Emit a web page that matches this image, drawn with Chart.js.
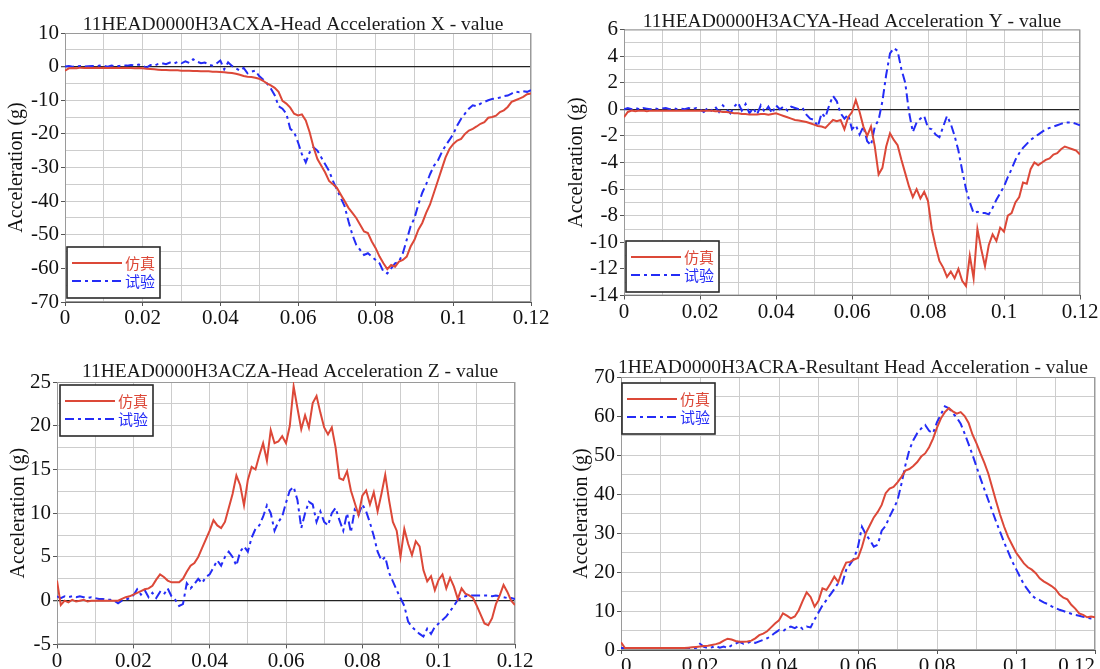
<!DOCTYPE html>
<html>
<head>
<meta charset="utf-8">
<script src="https://cdn.jsdelivr.net/npm/chart.js@4.4.1/dist/chart.umd.min.js"></script>
<style>
html,body{margin:0;padding:0;background:#fff;width:1100px;height:669px;overflow:hidden}
canvas{position:absolute;display:block}
</style>
</head>
<body>
<canvas id="c1" width="550" height="335" style="left:0;top:0"></canvas>
<canvas id="c2" width="550" height="335" style="left:550px;top:0"></canvas>
<canvas id="c3" width="550" height="334" style="left:0;top:335px"></canvas>
<canvas id="c4" width="550" height="334" style="left:550px;top:335px"></canvas>
<script>
// sampling interval of all series (s)
const TIME_STEP = 0.001;
const SERIES_NAMES = ['仿真', '试验'];
const X_TICK_LABELS = ['0', '0.02', '0.04', '0.06', '0.08', '0.1', '0.12'];
const Y_LABEL = 'Acceleration (g)';
const TITLES = [
  '11HEAD0000H3ACXA-Head Acceleration X - value',
  '11HEAD0000H3ACYA-Head Acceleration Y - value',
  '11HEAD0000H3ACZA-Head Acceleration Z - value',
  '1HEAD0000H3ACRA-Resultant Head Acceleration - value'
];

// Head acceleration X (g), t = 0 .. 0.12 s
const simX = [-1.2,-0.5,-0.4,-0.5,-0.3,-0.4,-0.3,-0.4,-0.3,-0.4,
  -0.3,-0.4,-0.3,-0.4,-0.4,-0.3,-0.4,-0.4,-0.5,-0.4,
  -0.5,-0.6,-0.7,-0.8,-0.9,-1.0,-1.0,-1.1,-1.1,-1.1,
  -1.2,-1.2,-1.2,-1.3,-1.3,-1.4,-1.4,-1.4,-1.5,-1.5,
  -1.6,-1.7,-1.8,-1.9,-2.1,-2.4,-2.8,-3.0,-3.1,-3.3,
  -3.6,-4.2,-5.0,-5.6,-6.3,-7.5,-10.2,-11.0,-12.2,-14.0,
  -14.5,-14.2,-16.0,-19.5,-24.0,-27.5,-29.5,-31.5,-34.0,-35.0,
  -36.0,-38.0,-40.0,-42.0,-43.5,-45.0,-47.0,-49.0,-49.5,-52.0,
  -54.0,-56.5,-58.5,-60.2,-59.0,-59.5,-58.0,-57.5,-56.5,-53.5,
  -51.5,-48.5,-46.5,-43.5,-41.0,-37.5,-34.0,-30.5,-27.0,-24.5,
  -23.0,-22.0,-21.5,-20.0,-19.0,-18.5,-17.8,-17.0,-16.5,-15.2,
  -15.0,-14.6,-13.5,-13.0,-12.0,-10.5,-10.0,-9.5,-9.0,-8.2,-8.0];
const testX = [0.0,0.2,0.0,0.1,0.2,0.0,0.1,0.2,0.1,0.3,
  0.2,0.0,0.3,0.1,0.2,0.4,0.3,0.5,0.3,0.6,
  0.2,-0.3,0.5,0.3,0.8,1.0,0.7,1.2,0.9,1.4,
  1.0,1.6,1.1,2.2,1.5,1.0,1.2,0.6,0.3,0.9,
  1.8,-0.8,1.3,0.2,-0.5,-1.2,-0.4,-2.0,-1.5,-1.2,
  -2.8,-3.8,-5.0,-6.5,-8.5,-11.8,-12.5,-14.0,-18.5,-19.5,
  -22.5,-26.0,-28.5,-25.5,-24.0,-25.0,-27.0,-29.0,-31.0,-34.0,
  -36.5,-39.0,-41.5,-46.0,-50.0,-53.0,-54.5,-56.0,-55.5,-56.5,
  -57.5,-58.5,-61.0,-61.5,-60.0,-58.5,-58.0,-55.5,-51.5,-47.5,
  -45.0,-41.0,-37.5,-35.0,-32.0,-29.5,-28.0,-25.5,-23.5,-21.8,
  -20.0,-17.5,-15.5,-14.0,-12.5,-11.5,-11.8,-11.0,-10.5,-10.0,
  -9.6,-9.5,-9.2,-8.8,-8.6,-8.0,-7.4,-7.6,-7.3,-7.5,-7.0];

// Head acceleration Y (g)
const simY = [-0.6,-0.2,-0.1,-0.15,-0.1,-0.1,-0.15,-0.1,-0.1,-0.1,
  -0.1,-0.1,-0.1,-0.1,-0.1,-0.1,-0.1,-0.1,-0.1,-0.1,
  -0.1,-0.1,-0.1,-0.1,-0.15,-0.15,-0.2,-0.2,-0.25,-0.3,
  -0.3,-0.35,-0.35,-0.4,-0.4,-0.4,-0.35,-0.35,-0.4,-0.35,
  -0.3,-0.4,-0.5,-0.6,-0.7,-0.8,-0.85,-0.9,-0.95,-1.05,
  -1.15,-1.25,-1.3,-1.4,-1.1,-0.8,-0.9,-0.8,-1.5,-0.6,
  -0.2,0.7,-0.2,-1.3,-2.0,-1.3,-2.8,-4.9,-4.4,-2.8,
  -1.8,-2.3,-2.7,-3.8,-4.8,-5.8,-6.6,-6.0,-6.7,-6.2,
  -6.9,-9.0,-10.3,-11.4,-11.9,-12.6,-12.2,-12.7,-12.0,-12.9,
  -13.3,-11.0,-12.7,-9.0,-10.5,-11.8,-10.2,-9.4,-9.9,-8.9,
  -9.2,-8.0,-7.8,-7.0,-6.6,-5.5,-5.6,-4.5,-4.0,-4.2,
  -4.0,-3.8,-3.7,-3.4,-3.3,-3.0,-2.8,-2.9,-3.0,-3.1,-3.4];
const testY = [0.0,0.1,0.0,0.1,0.0,0.1,0.05,0.0,0.1,0.0,
  0.05,0.1,0.0,0.1,0.0,0.05,0.0,0.1,0.0,0.1,
  0.0,-0.2,0.1,-0.1,0.2,-0.2,0.3,0.0,-0.3,0.2,
  0.5,-0.1,0.4,-0.3,0.1,-0.4,0.3,-0.2,0.2,-0.3,
  0.3,0.0,0.2,-0.1,0.2,0.1,0.0,0.1,-0.4,-0.7,
  -0.8,-1.3,-0.3,-0.6,0.3,1.0,0.6,-0.3,-0.7,-0.4,
  -1.5,-1.2,-1.9,-1.3,-2.4,-2.7,-1.3,-0.8,0.6,2.6,
  4.2,4.6,4.4,3.0,2.0,-0.2,-1.7,-1.0,-0.7,-0.5,
  -1.4,-1.5,-1.9,-2.1,-1.3,-0.5,-1.1,-2.0,-3.1,-4.6,
  -6.0,-7.0,-7.8,-7.7,-7.8,-7.8,-7.9,-7.4,-6.8,-6.3,
  -5.8,-5.1,-4.5,-3.8,-3.3,-2.9,-2.6,-2.3,-2.1,-1.9,
  -1.7,-1.5,-1.4,-1.3,-1.2,-1.1,-1.0,-1.0,-1.0,-1.1,-1.2];

// Head acceleration Z (g)
const simZ = [2.3,-0.5,0.0,-0.2,0.1,-0.1,0.0,0.1,-0.1,0.0,
  0.0,0.0,0.0,0.0,0.0,0.0,0.0,0.2,0.4,0.5,
  0.7,0.9,1.1,1.3,1.4,1.7,2.4,3.0,2.7,2.3,
  2.1,2.1,2.1,2.5,3.3,4.0,4.3,5.0,6.0,7.0,
  8.0,9.2,8.6,8.3,9.0,10.6,12.2,14.3,13.2,10.9,
  13.8,15.3,15.0,16.6,18.0,16.0,19.5,18.0,18.2,18.8,
  18.0,20.0,24.5,22.0,19.6,21.2,19.8,22.6,23.4,21.5,
  19.8,19.0,19.8,17.5,14.0,13.8,14.8,12.6,11.2,9.8,
  12.0,12.6,11.0,12.4,10.2,12.2,14.4,11.5,9.0,8.0,
  5.0,8.2,6.5,5.2,6.8,6.2,3.5,2.2,2.8,1.2,
  2.4,3.0,1.4,2.6,1.6,0.2,1.4,0.8,0.6,0.3,
  -0.6,-1.6,-2.6,-2.8,-2.0,-0.4,0.6,1.8,1.0,0.0,-0.5];
const testZ = [0.5,0.3,0.5,0.4,0.5,0.4,0.5,0.4,0.3,0.4,
  0.3,0.2,0.2,0.1,0.1,0.0,-0.3,0.0,0.1,0.3,
  0.6,1.3,0.7,1.2,0.4,0.9,0.3,1.0,0.7,1.4,
  0.5,0.1,-0.6,-0.4,2.0,1.4,1.9,2.5,2.0,2.7,
  3.0,3.8,4.6,4.0,5.0,5.6,5.0,4.0,5.6,6.2,
  5.6,7.2,8.2,8.6,9.6,10.9,10.0,8.0,9.0,9.6,
  11.2,12.6,13.0,11.5,8.3,10.0,11.3,11.0,9.0,10.2,
  9.0,8.6,10.0,10.6,9.2,8.0,10.0,7.8,10.4,9.8,
  11.0,10.2,8.9,7.4,5.6,4.6,5.0,3.2,2.2,1.2,
  0.3,-0.6,-2.4,-3.0,-3.4,-3.8,-4.1,-3.2,-3.8,-3.0,
  -2.6,-2.2,-1.8,-1.2,-0.6,0.1,0.3,0.5,0.6,0.6,
  0.6,0.6,0.6,0.6,0.5,0.6,0.5,0.4,0.3,0.3,0.2];

// Resultant head acceleration (g)
const simR = [2.0,0.5,0.5,0.5,0.5,0.5,0.5,0.5,0.5,0.5,
  0.5,0.5,0.5,0.5,0.5,0.5,0.5,0.6,0.7,0.8,
  0.9,1.0,1.1,1.3,1.5,1.8,2.4,2.9,2.7,2.3,
  2.1,2.1,2.2,2.4,3.0,3.8,4.2,4.8,5.8,6.8,
  7.6,9.4,8.8,8.1,8.6,10.2,12.6,14.8,13.6,11.1,
  12.6,15.8,15.4,17.0,18.8,17.4,20.2,22.4,22.6,23.2,
  23.6,26.4,30.0,32.0,34.0,35.4,37.2,40.2,41.4,41.8,
  43.0,44.4,46.0,46.4,47.2,48.2,49.6,50.4,52.0,54.2,
  57.0,59.4,61.0,62.0,61.2,60.6,61.0,60.0,58.2,55.2,
  53.0,50.4,48.0,45.2,41.6,38.0,34.6,31.6,29.0,27.0,
  25.0,23.6,22.2,21.2,20.6,19.7,18.4,17.6,17.0,16.4,
  15.6,14.2,13.4,13.0,11.6,10.6,9.4,9.0,8.4,8.6,8.4];
const testR = [0.5,0.5,0.5,0.5,0.5,0.5,0.5,0.5,0.5,0.5,
  0.5,0.5,0.5,0.5,0.5,0.5,0.5,0.5,0.5,0.5,
  1.6,0.8,0.5,0.7,1.0,0.6,0.9,0.5,1.2,1.6,
  2.1,1.6,1.8,2.2,1.8,2.2,2.6,3.0,3.6,4.4,
  5.1,4.8,5.6,6.0,5.6,6.2,5.4,6.0,5.8,7.8,
  9.6,11.4,12.8,14.2,15.6,17.2,17.0,20.5,22.0,23.5,
  26.5,31.6,29.6,28.2,26.5,27.0,30.6,31.8,34.2,36.2,
  38.4,42.6,47.4,51.3,53.8,55.6,56.8,57.7,56.2,55.6,
  58.4,60.4,62.5,62.0,60.7,59.6,58.0,55.5,52.8,50.0,
  47.0,44.0,41.2,38.4,35.6,32.8,30.2,27.6,25.2,22.8,
  20.8,18.8,16.8,15.4,14.0,13.2,12.8,12.2,11.8,11.2,
  10.8,10.3,10.0,9.6,9.3,9.0,8.8,8.5,8.3,8.1,8.2];

const SIM_COLOR = 'rgb(220,72,56)';
const TEST_COLOR = 'rgb(36,44,246)';
const TEST_DASH = [9, 4, 3, 4];
const SERIF = '"Liberation Serif", "Times New Roman", serif';
const CJK = '"Noto Sans CJK SC", sans-serif';
const TICK_FONT = 21;

function toPoints(vals) {
  return vals.map((v, i) => ({ x: +(i * TIME_STEP).toFixed(3), y: v }));
}

const panels = [
  { id: 'c1', title: TITLES[0], titleX: 293, titleY: 29.5, sim: simX, test: testX,
    yMin: -70, yMax: 10, yMinor: 5, yMajor: 10, xAlign: 'center',
    plot: { l: 65, t: 33, r: 531, b: 302 }, yTitleX: 17,
    legend: { corner: 'bl', dx: 2, dy: -4 } },
  { id: 'c2', title: TITLES[1], titleX: 302, titleY: 26.5, sim: simY, test: testY,
    yMin: -14, yMax: 6, yMinor: 1, yMajor: 2, xAlign: 'center',
    plot: { l: 74, t: 29.5, r: 530, b: 295.5 }, yTitleX: 27,
    legend: { corner: 'bl', dx: 2, dy: -3.5 } },
  { id: 'c3', title: TITLES[2], titleX: 290, titleY: 41.5, sim: simZ, test: testZ,
    yMin: -5, yMax: 25, yMinor: 2.5, yMajor: 5, xAlign: 'center',
    plot: { l: 57, t: 47, r: 515, b: 309.4 }, yTitleX: 19,
    legend: { corner: 'tl', dx: 3, dy: 3 } },
  { id: 'c4', title: TITLES[3], titleX: 303, titleY: 37.5, sim: simR, test: testR,
    yMin: 0, yMax: 70, yMinor: 5, yMajor: 10, xAlign: 'inner',
    plot: { l: 71, t: 42, r: 545, b: 315 }, yTitleX: 32,
    legend: { corner: 'tl', dx: 1, dy: 6 } }
];

function makeDecor(p) {
  return {
    id: 'decor_' + p.id,
    beforeDatasetsDraw(chart) {
      const a = chart.chartArea, ctx = chart.ctx;
      ctx.save();
      ctx.strokeStyle = '#9a9a9a';
      ctx.lineWidth = 1;
      ctx.strokeRect(a.left + 0.5, a.top + 0.5, a.right - a.left - 1, a.bottom - a.top - 1);
      ctx.restore();
    },
    afterDraw(chart) {
      const a = chart.chartArea, ctx = chart.ctx;
      ctx.save();
      // title
      ctx.font = '19.5px ' + SERIF;
      ctx.fillStyle = '#1a1a1a';
      ctx.textAlign = 'center';
      ctx.textBaseline = 'alphabetic';
      ctx.fillText(p.title, p.titleX, p.titleY);
      // legend
      const w = 93, h = 51;
      const bx = a.left + p.legend.dx;
      const by = p.legend.corner === 'bl' ? a.bottom + p.legend.dy - h : a.top + p.legend.dy;
      ctx.fillStyle = '#fff';
      ctx.fillRect(bx, by, w, h);
      ctx.strokeStyle = '#2a2a2a';
      ctx.lineWidth = 1.6;
      ctx.strokeRect(bx, by, w, h);
      const rows = [
        { c: SIM_COLOR, dash: [], y: by + 16, t: SERIES_NAMES[0] },
        { c: TEST_COLOR, dash: TEST_DASH, y: by + 34, t: SERIES_NAMES[1] }
      ];
      rows.forEach(r => {
        ctx.beginPath();
        ctx.setLineDash(r.dash);
        ctx.strokeStyle = r.c;
        ctx.lineWidth = 2.2;
        ctx.moveTo(bx + 5, r.y);
        ctx.lineTo(bx + 55, r.y);
        ctx.stroke();
        ctx.setLineDash([]);
        ctx.fillStyle = r.c;
        ctx.font = '15px ' + CJK;
        ctx.textAlign = 'left';
        ctx.textBaseline = 'middle';
        ctx.fillText(r.t, bx + 58, r.y);
      });
      ctx.restore();
    }
  };
}

function isMajor(v, major) {
  const q = v / major;
  return Math.abs(q - Math.round(q)) < 1e-6;
}

panels.forEach(p => {
  const cv = document.getElementById(p.id);
  const W = cv.width, H = cv.height;
  new Chart(cv, {
    type: 'line',
    data: {
      datasets: [
        { label: SERIES_NAMES[0], data: toPoints(p.sim), borderColor: SIM_COLOR,
          borderWidth: 2, pointRadius: 0, tension: 0, fill: false },
        { label: SERIES_NAMES[1], data: toPoints(p.test), borderColor: TEST_COLOR,
          borderWidth: 2, borderDash: TEST_DASH, pointRadius: 0, tension: 0, fill: false }
      ]
    },
    options: {
      responsive: false,
      animation: false,
      devicePixelRatio: 1,
      layout: { padding: { left: 0, top: p.plot.t, right: W - p.plot.r, bottom: 0 } },
      plugins: { legend: { display: false }, tooltip: { enabled: false }, title: { display: false } },
      scales: {
        x: {
          type: 'linear', min: 0, max: 0.12,
          afterFit(s) { s.height = H - p.plot.b; s.paddingLeft = 0; s.paddingRight = 0; },
          ticks: {
            stepSize: 0.01, autoSkip: false, maxRotation: 0, minRotation: 0, padding: 0,
            align: p.xAlign,
            color: '#111', font: { family: SERIF, size: TICK_FONT },
            callback: (v, i) => (i % 2 === 0 ? X_TICK_LABELS[i / 2] : '')
          },
          grid: { color: '#cdcdcd', lineWidth: 1, tickLength: 4,
            tickColor: c => (c.index % 2 === 0 ? '#555' : 'rgba(0,0,0,0)') },
          border: { display: true, color: '#555', width: 1 }
        },
        y: {
          type: 'linear', min: p.yMin, max: p.yMax,
          afterFit(s) { s.width = p.plot.l; s.paddingTop = 0; s.paddingBottom = 0; },
          ticks: {
            stepSize: p.yMinor, autoSkip: false, padding: 2,
            color: '#111', font: { family: SERIF, size: TICK_FONT },
            callback: v => (isMajor(v, p.yMajor) ? String(Math.round(v)) : '')
          },
          grid: {
            color: c => (c.tick && c.tick.value === 0 && p.yMin < 0 ? '#222' : '#cdcdcd'),
            lineWidth: c => (c.tick && c.tick.value === 0 && p.yMin < 0 ? 1.3 : 1),
            tickLength: 4,
            tickColor: c => (c.tick && isMajor(c.tick.value, p.yMajor) ? '#555' : 'rgba(0,0,0,0)')
          },
          border: { display: true, color: '#555', width: 1 },
          title: { display: true, text: Y_LABEL, color: '#111',
            font: { family: SERIF, size: 20 }, padding: { top: p.yTitleX - 12, bottom: 0 } }
        }
      }
    },
    plugins: [makeDecor(p)]
  });
});
</script>
</body>
</html>
